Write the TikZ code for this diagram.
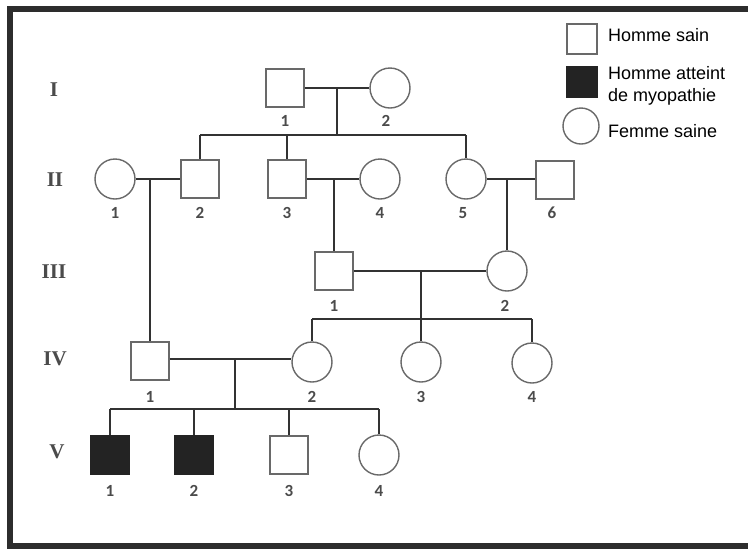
\documentclass[tikz,border=0pt]{standalone}
\usepackage{fontspec}
\setmainfont{Liberation Serif}
\newfontfamily\legfont{Liberation Sans}
\newfontfamily\numfont{Carlito}
\definecolor{framecol}{RGB}{45,45,45}
\definecolor{linecol}{RGB}{50,50,50}
\definecolor{shapecol}{RGB}{105,105,105}
\definecolor{fillcol}{RGB}{35,35,35}
\definecolor{txtcol}{RGB}{75,75,75}
\tikzset{
  male/.style={draw=shapecol, line width=1.4pt, fill=white, minimum size=38pt, inner sep=0pt, rectangle},
  affected/.style={male, fill=fillcol, draw=fillcol},
  female/.style={draw=shapecol, line width=1.4pt, fill=white, minimum size=40pt, inner sep=0pt, circle},
  link/.style={draw=linecol, line width=2.5pt},
  lbl/.style={font=\numfont\bfseries\fontsize{17}{17}\selectfont, text=txtcol, inner sep=0pt},
  gen/.style={font=\bfseries\fontsize{21}{21}\selectfont, text=txtcol, inner sep=0pt},
  legtxt/.style={font=\legfont\fontsize{18}{22}\selectfont, text=black, inner sep=0pt, anchor=west, align=left}
}
\begin{document}
\begin{tikzpicture}[x=1pt,y=-1pt]
\useasboundingbox (0,0) rectangle (748,550);
\fill[white] (0,0) rectangle (748,550);
% frame
\draw[framecol, line width=6pt] (748,9) -- (10,9) -- (10,546) -- (748,546);

% generation labels
\node[gen] (gI) at (54,90) {I};
\node[gen] (gII) at (55,180) {II};
\node[gen] (gIII) at (54,272) {III};
\node[gen] (gIV) at (55,359) {IV};
\node[gen] (gV) at (57,452) {V};

% individuals
\node[male] (I1) at (285,88) {};
\node[female] (I2) at (390,88) {};

\node[female] (II1) at (115,179) {};
\node[male] (II2) at (200,179) {};
\node[male] (II3) at (287,179) {};
\node[female] (II4) at (380,179) {};
\node[female] (II5) at (466,179) {};
\node[male] (II6) at (555,180) {};

\node[male] (III1) at (334,271) {};
\node[female] (III2) at (507,271) {};

\node[male] (IV1) at (150,361) {};
\node[female] (IV2) at (312,362) {};
\node[female] (IV3) at (421,362) {};
\node[female] (IV4) at (532,363) {};

\node[affected] (V1) at (110,455) {};
\node[affected] (V2) at (194,455) {};
\node[male] (V3) at (289,455) {};
\node[female] (V4) at (379,455) {};

% junction coordinates
\coordinate (m1) at (337,88);
\coordinate (s1) at (337,135);
\coordinate (m5) at (421,271);
\coordinate (s5) at (421,319);
\coordinate (m6) at (235,359);
\coordinate (s6) at (235,409);

% generation I
\draw[link] (I1.east) -- (I2.west);
\draw[link] (m1) -- (s1);
\draw[link] (s1 -| II2) -- (s1 -| II5);
\draw[link] (s1 -| II2) -- (II2.north);
\draw[link] (s1 -| II3) -- (II3.north);
\draw[link] (s1 -| II5) -- (II5.north);

% generation II couples
\draw[link] (II1.east) -- (II2.west);
\draw[link] (IV1.north |- II1.east) -- (IV1.north);
\draw[link] (II3.east) -- (II4.west);
\draw[link] (III1.north |- II3.east) -- (III1.north);
\draw[link] (II5.east) -- (II6.west |- II5.east);
\draw[link] (III2.north |- II5.east) -- (III2.north);

% generation III
\draw[link] (III1.east) -- (III2.west);
\draw[link] (m5) -- (IV3.north);
\draw[link] (s5 -| IV2) -- (s5 -| IV4);
\draw[link] (s5 -| IV2) -- (IV2.north);
\draw[link] (s5 -| IV4) -- (IV4.north);

% generation IV
\draw[link] (IV1.east |- m6) -- (IV2.west |- m6);
\draw[link] (m6) -- (s6);
\draw[link] (s6 -| V1) -- (s6 -| V4);
\draw[link] (s6 -| V1) -- (V1.north);
\draw[link] (s6 -| V2) -- (V2.north);
\draw[link] (s6 -| V3) -- (V3.north);
\draw[link] (s6 -| V4) -- (V4.north);

% number labels
\node[lbl] (lI1) at ([yshift=-33pt]I1.center) {1};
\node[lbl] (lI2) at ([xshift=-4pt,yshift=-33pt]I2.center) {2};
\node[lbl] (lII1) at ([yshift=-34pt]II1.center) {1};
\node[lbl] (lII2) at ([yshift=-34pt]II2.center) {2};
\node[lbl] (lII3) at ([yshift=-34pt]II3.center) {3};
\node[lbl] (lII4) at ([yshift=-34pt]II4.center) {4};
\node[lbl] (lII5) at ([xshift=-3pt,yshift=-34pt]II5.center) {5};
\node[lbl] (lII6) at ([xshift=-3pt,yshift=-33pt]II6.center) {6};
\node[lbl] (lIII1) at ([yshift=-35pt]III1.center) {1};
\node[lbl] (lIII2) at ([xshift=-2pt,yshift=-35pt]III2.center) {2};
\node[lbl] (lIV1) at ([yshift=-36pt]IV1.center) {1};
\node[lbl] (lIV2) at ([yshift=-35pt]IV2.center) {2};
\node[lbl] (lIV3) at ([yshift=-35pt]IV3.center) {3};
\node[lbl] (lIV4) at ([yshift=-34pt]IV4.center) {4};
\node[lbl] (lV1) at ([yshift=-36pt]V1.center) {1};
\node[lbl] (lV2) at ([yshift=-36pt]V2.center) {2};
\node[lbl] (lV3) at ([yshift=-36pt]V3.center) {3};
\node[lbl] (lV4) at ([yshift=-36pt]V4.center) {4};

% legend
\node[male, minimum size=30pt] (k1) at (582,39) {};
\node[affected, minimum size=30pt] (k2) at (582,82) {};
\node[female, minimum size=36pt] (k3) at (581,126) {};
\node[legtxt] (t1) at (608,35) {Homme sain};
\node[legtxt] (t2) at (608,86) {Homme atteint\\de myopathie};
\node[legtxt] (t3) at (608,131) {Femme saine};
\end{tikzpicture}
\end{document}
